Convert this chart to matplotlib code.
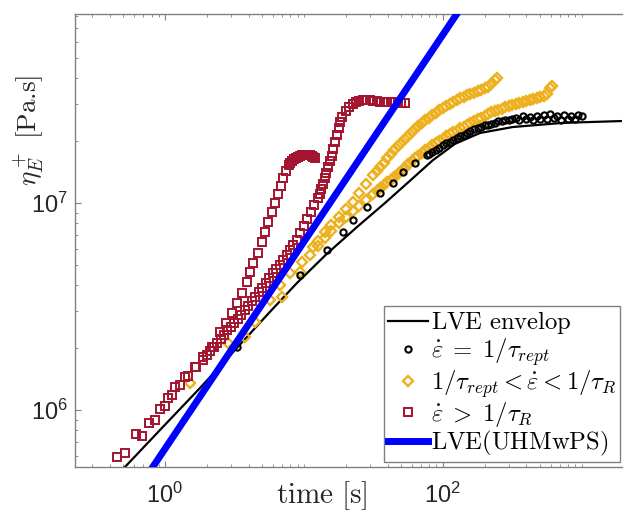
import numpy as np
import matplotlib
matplotlib.use('Agg')
import matplotlib.pyplot as plt
from matplotlib.ticker import FixedLocator, LogLocator, FuncFormatter, NullFormatter
from matplotlib.font_manager import FontProperties

# ---------------- data ----------------
# LVE envelope
t_env = [0.45, 0.515, 0.920, 1.79, 3.30, 5.69, 8.91, 14.6, 24.1, 38.3, 57.9,
         84.7, 122, 185, 319, 730, 1940]
eta_env = [4.83e5, 5.31e5, 8.01e5, 1.28e6, 2.00e6, 2.98e6, 4.11e6, 5.68e6,
           7.66e6, 1.00e7, 1.28e7, 1.61e7, 1.93e7, 2.18e7, 2.33e7, 2.44e7, 2.49e7]

# rate = 1/tau_rept (black circles)
t_rept = [3.30, 9.36, 14.6, 19.1, 22.5, 28.4, 35.2, 43.7, 51.5, 62.9, 76.7,
          79.4, 84.1, 89.1, 94.4, 100, 106, 112, 119, 126, 133, 141, 150, 158,
          168, 178, 188, 200, 211, 224, 237, 251, 266, 282, 299, 316, 335, 355,
          376, 398, 422, 447, 473, 501, 531, 562, 596, 631, 668, 708, 750, 794,
          841, 891, 944, 1000]
eta_rept = [2.02e6, 4.49e6, 5.93e6, 7.25e6, 8.28e6, 9.57e6, 1.12e7, 1.25e7,
            1.41e7, 1.56e7, 1.71e7,
            1.73e7, 1.77e7, 1.81e7, 1.85e7, 1.90e7, 1.94e7, 1.98e7, 2.02e7,
            2.06e7, 2.10e7, 2.14e7, 2.19e7, 2.23e7, 2.27e7, 2.31e7, 2.34e7,
            2.37e7, 2.39e7, 2.42e7, 2.45e7, 2.48e7, 2.49e7, 2.51e7, 2.52e7,
            2.54e7, 2.57e7, 2.52e7, 2.62e7, 2.54e7, 2.60e7, 2.51e7, 2.64e7,
            2.56e7, 2.66e7, 2.54e7, 2.68e7, 2.57e7, 2.63e7, 2.52e7, 2.66e7,
            2.56e7, 2.63e7, 2.54e7, 2.66e7, 2.62e7]

# 1/tau_rept < rate < 1/tau_R (yellow diamonds), two tests
t_mid1 = [1.51, 2.84, 4.44, 5.69, 6.72, 7.93, 9.68, 11.6, 12.6, 14.1, 15.8,
          17.8, 20.0, 22.4, 25.1, 28.2, 31.6, 33.5, 35.5, 37.6, 39.8, 42.2, 44.7,
          47.3, 50.1, 53.1, 56.2, 59.6, 63.1, 66.8, 70.8, 75.0, 79.4, 84.1, 89.1,
          94.4, 100, 106, 112, 119, 126, 133, 141, 150, 158, 168, 178, 188, 200,
          211, 224, 237, 245]
eta_mid1 = [1.35e6, 2.11e6, 2.66e6, 3.40e6, 4.02e6, 4.59e6, 5.19e6, 6.14e6,
            6.56e6, 7.21e6, 7.85e6, 8.53e6, 9.31e6, 1.016e7, 1.124e7, 1.242e7,
            1.365e7, 1.432e7, 1.50e7, 1.57e7, 1.644e7, 1.722e7, 1.803e7,
            1.884e7, 1.959e7, 2.03e7, 2.11e7, 2.20e7, 2.275e7, 2.35e7, 2.43e7,
            2.51e7, 2.59e7, 2.66e7, 2.73e7, 2.81e7, 2.88e7, 2.95e7, 3.01e7,
            3.08e7, 3.14e7, 3.20e7, 3.27e7, 3.31e7, 3.37e7, 3.42e7, 3.47e7,
            3.53e7, 3.59e7, 3.65e7, 3.76e7, 3.93e7, 4.02e7]
t_mid2 = [3.76, 6.95, 9.36, 11.0, 12.6, 14.1, 15.8, 17.8, 20.0, 22.4, 25.1,
          28.2, 31.6, 33.5, 35.5, 37.6, 39.8, 42.2, 44.7, 47.3, 50.1, 53.1, 56.2,
          59.6, 63.1, 66.8, 70.8, 75.0, 79.4, 84.1, 89.1, 94.4, 100, 106, 112,
          119, 126, 133, 141, 150, 158, 168, 178, 188, 200, 211, 224, 237, 251,
          266, 282, 299, 316, 335, 355, 376, 398, 422, 447, 473, 501, 531, 562,
          596, 608]
eta_mid2 = [2.25e6, 3.52e6, 4.65e6, 5.61e6, 6.21e6, 6.78e6, 7.36e6, 7.98e6,
            8.57e6, 9.16e6, 9.73e6, 1.035e7, 1.109e7, 1.148e7, 1.189e7,
            1.222e7, 1.259e7, 1.297e7, 1.337e7, 1.380e7, 1.429e7, 1.483e7,
            1.538e7, 1.592e7, 1.644e7, 1.694e7, 1.746e7, 1.799e7, 1.854e7,
            1.901e7, 1.950e7, 2.00e7, 2.05e7, 2.10e7, 2.15e7, 2.20e7, 2.24e7,
            2.30e7, 2.34e7, 2.39e7, 2.44e7, 2.49e7, 2.54e7, 2.59e7, 2.64e7,
            2.69e7, 2.74e7, 2.79e7, 2.83e7, 2.86e7, 2.90e7, 2.94e7, 2.97e7,
            3.01e7, 3.04e7, 3.08e7, 3.11e7, 3.15e7, 3.18e7, 3.21e7, 3.24e7,
            3.29e7, 3.37e7, 3.61e7, 3.68e7]

# rate > 1/tau_R (red squares), two tests
t_fast1 = [0.452, 0.618, 0.767, 0.920, 1.05, 1.18, 1.39, 1.64, 1.88, 2.18, 2.49,
           2.75, 3.03, 3.30, 3.58, 3.89, 4.09, 4.30, 4.67, 4.99, 5.24, 5.51, 5.89,
           6.18, 6.50, 6.83, 7.06, 7.42, 7.80, 8.00, 8.20, 8.45, 8.75, 9.05, 9.36,
           9.70, 10.0, 10.3, 10.7, 11.0, 11.4, 11.7, 12.0]
eta_fast1 = [5.93e5, 7.66e5, 8.66e5, 1.01e6, 1.14e6, 1.29e6, 1.44e6, 1.61e6,
             1.80e6, 2.02e6, 2.38e6, 2.63e6, 2.94e6, 3.29e6, 3.68e6, 4.16e6,
             4.65e6, 5.14e6, 5.74e6, 6.49e6, 7.25e6, 8.10e6, 9.06e6, 1.00e7,
             1.11e7, 1.21e7, 1.32e7, 1.43e7, 1.53e7, 1.57e7, 1.60e7, 1.63e7,
             1.65e7, 1.67e7, 1.69e7, 1.70e7, 1.71e7, 1.71e7, 1.71e7, 1.70e7,
             1.69e7, 1.67e7, 1.65e7]
t_fast2 = [0.515, 0.683, 0.847, 1.00, 1.12, 1.28, 1.46, 1.67,
           1.884, 1.995, 2.113, 2.239, 2.371, 2.512, 2.661, 2.818, 2.985, 3.162,
           3.350, 3.548, 3.758, 3.981, 4.217, 4.467, 4.732, 5.012, 5.309, 5.623,
           5.957, 6.310, 6.683, 7.079, 7.499, 7.943, 8.414, 8.913, 9.441, 10.0,
           10.59, 11.22, 11.89, 12.59, 12.96, 13.34, 13.73, 14.13, 14.54, 14.96,
           15.40, 15.85, 16.31, 16.79, 17.28, 17.78, 18.30, 18.84, 19.95, 21.13,
           22.39, 23.71, 25.12, 26.61, 28.18, 29.85, 31.62, 33.50, 35.48, 37.58,
           39.81, 42.17, 44.67, 47.32, 50.12, 53.09]
eta_fast2 = [6.21e5, 7.50e5, 8.95e5, 1.05e6, 1.18e6, 1.32e6, 1.46e6, 1.61e6,
             1.75e6, 1.837e6, 1.928e6, 2.014e6, 2.104e6, 2.198e6, 2.307e6,
             2.427e6, 2.529e6, 2.642e6, 2.761e6, 2.891e6, 3.034e6, 3.192e6,
             3.350e6, 3.524e6, 3.707e6, 3.908e6, 4.121e6, 4.345e6, 4.571e6,
             4.797e6, 5.047e6, 5.321e6, 5.623e6, 5.943e6, 6.281e6, 6.637e6,
             7.161e6, 7.745e6, 8.356e6, 9.036e6, 9.772e6, 1.059e7, 1.109e7,
             1.169e7, 1.239e7, 1.315e7, 1.400e7, 1.493e7, 1.589e7, 1.694e7,
             1.828e7, 1.977e7, 2.138e7, 2.312e7, 2.466e7, 2.600e7, 2.786e7,
             2.904e7, 2.999e7, 3.076e7, 3.119e7, 3.141e7, 3.148e7, 3.148e7,
             3.126e7, 3.105e7, 3.083e7, 3.076e7, 3.076e7, 3.076e7, 3.076e7,
             3.062e7, 3.055e7, 3.041e7]

# LVE of UHMwPS (straight line, two end points)
t_uhm = [0.5, 200]
eta_uhm = [3.25e5, 1.30e8]

labels = [r'$\mathrm{LVE\ envelop}$',
          r'$\dot{\varepsilon}\;=\;1/\tau_{rept}$',
          r'$1/\tau_{rept}<\dot{\varepsilon}<1/\tau_R$',
          r'$\dot{\varepsilon}\;>\;1/\tau_R$',
          r'$\mathrm{LVE(UHMwPS)}$']
x_major = [1, 100]
y_major = [1e6, 1e7]
xlim = (0.225, 1950)
ylim = (5.31e5, 8.19e7)

# ---------------- style ----------------
plt.rcParams['font.family'] = ['Liberation Sans', 'DejaVu Sans']
plt.rcParams['mathtext.fontset'] = 'custom'
plt.rcParams['mathtext.rm'] = 'Liberation Sans'
plt.rcParams['mathtext.it'] = 'Liberation Sans:italic'
plt.rcParams['mathtext.bf'] = 'Liberation Sans:bold'

RED = '#A2142F'
YEL = '#EDB120'
GRAY = '#808080'

fig = plt.figure(figsize=(6.44, 5.11), dpi=100)
ax = fig.add_axes([75 / 644, 1 - 467 / 511, 547 / 644, 453 / 511])

h_env, = ax.plot(t_env, eta_env, '-', color='black', lw=1.6, zorder=2)
h_mid, = ax.plot(t_mid1, eta_mid1, 'D', mfc='none', mec=YEL, ms=5.3, mew=1.7,
                 ls='none', zorder=3)
ax.plot(t_mid2, eta_mid2, 'D', mfc='none', mec=YEL, ms=5.3, mew=1.7, ls='none', zorder=3)
h_fast, = ax.plot(t_fast1, eta_fast1, 's', mfc='none', mec=RED, ms=6.2, mew=1.4,
                  ls='none', zorder=4)
ax.plot(t_fast2, eta_fast2, 's', mfc='none', mec=RED, ms=6.2, mew=1.4, ls='none', zorder=4)
h_rept, = ax.plot(t_rept, eta_rept, 'o', mfc='none', mec='black', ms=4.5, mew=1.5,
                  ls='none', zorder=5)
h_uhm, = ax.plot(t_uhm, eta_uhm, '-', color='#0000FF', lw=5, zorder=6)

ax.set_xscale('log')
ax.set_yscale('log')
ax.set_xlim(*xlim)
ax.set_ylim(*ylim)

ax.xaxis.set_major_locator(FixedLocator(x_major))
ax.yaxis.set_major_locator(FixedLocator(y_major))
ax.xaxis.set_minor_locator(LogLocator(base=10, subs=np.arange(1, 10), numticks=50))
ax.yaxis.set_minor_locator(LogLocator(base=10, subs=np.arange(1, 10), numticks=50))
fmt = FuncFormatter(lambda v, p: r'$10^{%d}$' % int(round(np.log10(v))))
ax.xaxis.set_major_formatter(fmt)
ax.yaxis.set_major_formatter(fmt)
ax.xaxis.set_minor_formatter(NullFormatter())
ax.yaxis.set_minor_formatter(NullFormatter())

ax.tick_params(which='both', direction='in', top=True, right=False,
               color=GRAY, labelsize=17, labelcolor='#262626')
ax.tick_params(which='major', length=4.5, width=0.8)
ax.tick_params(which='minor', length=2.5, width=0.6)
ax.tick_params(axis='x', which='major', pad=11)
ax.tick_params(axis='y', which='major', pad=5)

for s in ['left', 'bottom', 'top']:
    ax.spines[s].set_color(GRAY)
    ax.spines[s].set_linewidth(1.0)
ax.spines['right'].set_visible(False)

fp = FontProperties(size=17.8, math_fontfamily='cm')
leg = ax.legend([h_env, h_rept, h_mid, h_fast, h_uhm], labels,
                loc='lower right', bbox_to_anchor=(0.997, 0.012), prop=fp,
                frameon=True, fancybox=False, framealpha=1, edgecolor=GRAY,
                handlelength=1.65, handletextpad=0.1, labelspacing=0.0,
                borderpad=0.15, borderaxespad=0, numpoints=1)
leg.get_frame().set_linewidth(1.0)
leg.set_zorder(10)

lab_fp = FontProperties(size=21, math_fontfamily='cm')
fig.text(322 / 644, 1 - 496 / 511, r'$\mathrm{time\ [s]}$', ha='center',
         va='center', fontproperties=lab_fp, color='#262626')
ylab_fp = FontProperties(family='cmr10', size=19.5, math_fontfamily='cm')
fig.text(29 / 644, 1 - 130 / 511, r'$\eta_E^+$ [Pa.s]', ha='center',
         va='center', rotation=90, fontproperties=ylab_fp, color='#262626')

fig.savefig('out.png', dpi=100)
